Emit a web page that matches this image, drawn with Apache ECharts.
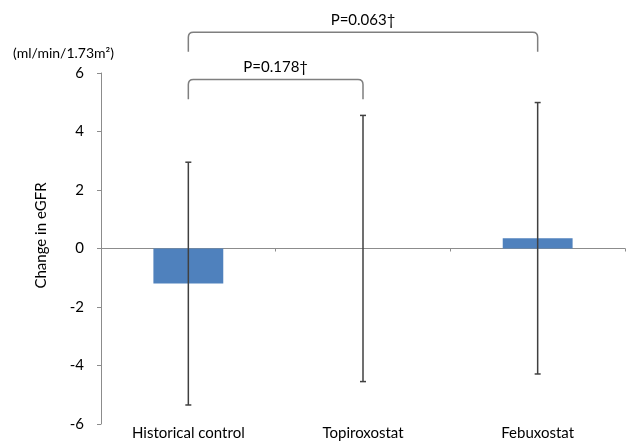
<!DOCTYPE html>
<html>
<head>
<meta charset="utf-8">
<script src="https://cdn.jsdelivr.net/npm/echarts@6/dist/echarts.min.js"></script>
<style>
html,body{margin:0;padding:0;background:#fff;}
#chart{width:628px;height:441px;}
</style>
</head>
<body>
<div id="chart"></div>
<script>
const categories = ['Historical control', 'Topiroxostat', 'Febuxostat'];
const means = [-1.2, 0.0, 0.35];
const errors = [4.15, 4.55, 4.64];
const yMin = -6, yMax = 6, yInterval = 2;
const unitLabel = '(ml/min/1.73m\u00B2)';
const yName = 'Change in eGFR';
// comparisons: [fromIndex, toIndex, bracket top value, bracket end value, label]
const compFrom = [0, 0];
const compTo = [1, 2];
const compTop = [5.78, 7.39];
const compEnd = [5.1, 6.73];
const compLabels = ['P=0.178\u2020', 'P=0.063\u2020'];

const FONT = 'Lato';
const chart = echarts.init(document.getElementById('chart'));

const errData = categories.map((c, i) => [i, means[i] - errors[i], means[i] + errors[i]]);
const compData = compFrom.map((f, i) => [f, compTo[i], compTop[i], compEnd[i], i]);

chart.setOption({
  animation: false,
  backgroundColor: '#fff',
  textStyle: {fontFamily: FONT},
  grid: {left: 101, right: 3, top: 73, bottom: 15, containLabel: false},
  graphic: [{
    type: 'text', left: 13, top: 46,
    style: {text: unitLabel, font: '14px ' + FONT, fill: '#000'}
  }],
  xAxis: [{
    type: 'category', data: categories, position: 'top',
    axisLine: {onZero: true, lineStyle: {color: '#8c8c8c', width: 1}},
    axisTick: {show: true, inside: true, length: 3, lineStyle: {color: '#8c8c8c'}},
    axisLabel: {show: false}
  }, {
    type: 'category', data: categories, position: 'bottom',
    axisLine: {show: false}, axisTick: {show: false},
    axisLabel: {margin: 2, fontSize: 15, color: '#000', fontFamily: FONT}
  }],
  yAxis: {
    type: 'value', min: yMin, max: yMax, interval: yInterval,
    name: yName, nameLocation: 'middle', nameGap: 52,
    nameTextStyle: {fontSize: 15, color: '#000', fontFamily: FONT, padding: [0, 0, 0, 26]},
    splitLine: {show: false},
    axisLine: {show: true, lineStyle: {color: '#8c8c8c'}},
    axisTick: {show: true, length: 4, lineStyle: {color: '#8c8c8c'}},
    axisLabel: {fontSize: 15, color: '#000', margin: 17, fontFamily: FONT}
  },
  series: [{
    type: 'bar', xAxisIndex: 0, data: means, barWidth: '40%',
    itemStyle: {color: '#4f81bd', borderWidth: 0}
  }, {
    type: 'custom', xAxisIndex: 0, data: errData, z: 5,
    renderItem: function (params, api) {
      const lo = api.coord([api.value(0), api.value(1)]);
      const hi = api.coord([api.value(0), api.value(2)]);
      const w = 3;
      const st = {stroke: '#404040', lineWidth: 1.5};
      return {type: 'group', children: [
        {type: 'line', shape: {x1: hi[0], y1: hi[1], x2: lo[0], y2: lo[1]}, style: st},
        {type: 'line', shape: {x1: hi[0] - w, y1: hi[1], x2: hi[0] + w, y2: hi[1]}, style: st},
        {type: 'line', shape: {x1: lo[0] - w, y1: lo[1], x2: lo[0] + w, y2: lo[1]}, style: st}
      ]};
    }
  }, {
    type: 'custom', xAxisIndex: 0, data: compData, z: 5, clip: false,
    renderItem: function (params, api) {
      const a = api.coord([api.value(0), api.value(2)]);
      const b = api.coord([api.value(1), api.value(2)]);
      const e = api.coord([api.value(0), api.value(3)]);
      const x1 = a[0], x2 = b[0], yt = a[1], yb = e[1];
      const r = 5;
      const path = 'M' + x1 + ',' + yb + ' L' + x1 + ',' + (yt + r) +
        ' Q' + x1 + ',' + yt + ' ' + (x1 + r) + ',' + yt +
        ' L' + (x2 - r) + ',' + yt + ' Q' + x2 + ',' + yt + ' ' + x2 + ',' + (yt + r) +
        ' L' + x2 + ',' + yb;
      return {type: 'group', children: [
        {type: 'path', shape: {pathData: path}, style: {stroke: '#7f7f7f', lineWidth: 1.5, fill: null}},
        {type: 'text', x: (x1 + x2) / 2, y: yt - 12,
         style: {text: compLabels[api.value(4)], font: '15px ' + FONT, fill: '#000', align: 'center', verticalAlign: 'middle'}}
      ]};
    }
  }]
});
</script>
</body>
</html>
